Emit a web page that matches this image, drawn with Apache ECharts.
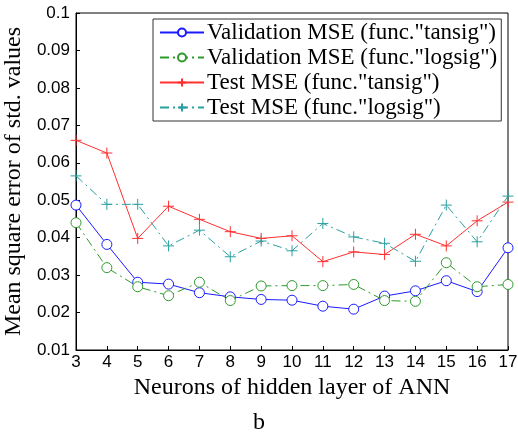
<!DOCTYPE html>
<html>
<head>
<meta charset="utf-8">
<script src="https://cdn.jsdelivr.net/npm/echarts@6/dist/echarts.min.js"></script>
<style>
  html, body { margin: 0; padding: 0; background: #fff; }
  #chart { width: 518px; height: 446px; }
</style>
</head>
<body>
<div id="chart"></div>
<script>
// neurons in hidden layer
const neurons = [3, 4, 5, 6, 7, 8, 9, 10, 11, 12, 13, 14, 15, 16, 17];
const valTansig = [0.0487, 0.0382, 0.0281, 0.0276, 0.0253, 0.0242, 0.0235, 0.0233, 0.0217, 0.0209, 0.0244, 0.0258, 0.0285, 0.0256, 0.0373];
const valLogsig = [0.0440, 0.0320, 0.0269, 0.0245, 0.0281, 0.0232, 0.0271, 0.0272, 0.0272, 0.0275, 0.0232, 0.0230, 0.0333, 0.0269, 0.0275];
const testTansig = [0.0660, 0.0626, 0.0398, 0.0484, 0.0449, 0.0416, 0.0398, 0.0405, 0.0336, 0.0362, 0.0355, 0.0409, 0.0378, 0.0445, 0.0495];
const testLogsig = [0.0565, 0.0489, 0.0489, 0.0378, 0.0420, 0.0349, 0.0391, 0.0365, 0.0438, 0.0402, 0.0385, 0.0337, 0.0487, 0.0389, 0.0511];

const plus = 'path://M0,5L10,5M5,0L5,10';
const dashDot = [9, 4, 2, 4];
const serif = '"Liberation Serif", "DejaVu Serif", serif';
const sans = '"Liberation Sans", Arial, sans-serif';

function pairs(arr) {
  return neurons.map((n, i) => [n, arr[i]]);
}

function mkSeries(name, data, color, symbol, size, dash) {
  return {
    name: name,
    type: 'line',
    data: pairs(data),
    symbol: symbol,
    symbolSize: size,
    showSymbol: true,
    lineStyle: { color: color, width: 1, type: dash },
    itemStyle: { color: symbol === plus ? color : '#fff', borderColor: color, borderWidth: 1 },
    emphasis: { disabled: true },
    animation: false,
  };
}

const chart = echarts.init(document.getElementById('chart'));
chart.setOption({
  backgroundColor: '#fff',
  grid: {
    left: 76, right: 10, top: 13, bottom: 96,
    outerBoundsMode: 'none',
    show: true, borderColor: '#000', borderWidth: 1,
  },
  legend: {
    left: 153,
    top: 19,
    orient: 'vertical',
    itemWidth: 44,
    itemHeight: 10,
    itemGap: 2,
    padding: [2, 4, 2, 6],
    borderColor: '#333',
    borderWidth: 1,
    backgroundColor: '#fff',
    textStyle: { fontFamily: serif, fontSize: 23, color: '#000', padding: [0, 0, 0, -2] },
  },
  xAxis: {
    type: 'value',
    min: 3,
    max: 17,
    interval: 1,
    name: 'Neurons of hidden layer of ANN',
    nameLocation: 'middle',
    nameGap: 23,
    nameTextStyle: { fontFamily: serif, fontSize: 24, color: '#000' },
    axisLine: { lineStyle: { color: '#000' } },
    axisTick: { inside: true, length: 4, lineStyle: { color: '#000' } },
    axisLabel: { fontFamily: sans, fontSize: 17, color: '#000', margin: 4 },
    splitLine: { show: false },
  },
  yAxis: {
    type: 'value',
    min: 0.01,
    max: 0.1,
    interval: 0.01,
    name: 'Mean square error of std. values',
    nameLocation: 'middle',
    nameGap: 47,
    nameTextStyle: { fontFamily: serif, fontSize: 24, color: '#000' },
    axisLine: { lineStyle: { color: '#000' } },
    axisTick: { inside: true, length: 4, lineStyle: { color: '#000' } },
    axisLabel: {
      fontFamily: sans, fontSize: 17, color: '#000', margin: 6,
      formatter: v => String(Math.round(v * 100) / 100),
    },
    splitLine: { show: false },
  },
  graphic: [{
    type: 'text',
    left: 'center',
    top: 411,
    style: { text: 'b', fontFamily: serif, fontSize: 24, fill: '#000' },
  }],
  series: [
    mkSeries('Validation MSE (func."tansig")', valTansig, '#1a1aff', 'circle', 10, 'solid'),
    mkSeries('Validation MSE (func."logsig")', valLogsig, '#2e9a2e', 'circle', 10, dashDot),
    mkSeries('Test MSE (func."tansig")', testTansig, '#ff3030', plus, 11, 'solid'),
    mkSeries('Test MSE (func."logsig")', testLogsig, '#2aa0a0', plus, 11, dashDot),
  ],
});
</script>
</body>
</html>
